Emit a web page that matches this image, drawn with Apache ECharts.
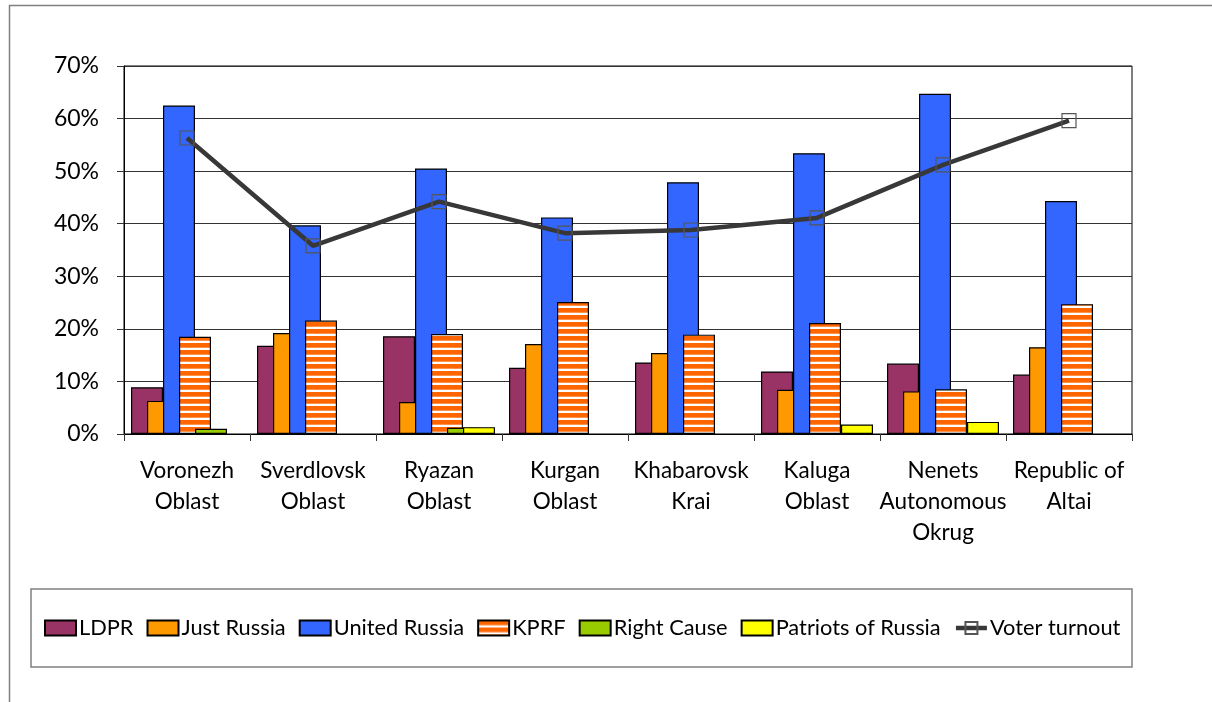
<!DOCTYPE html>
<html>
<head>
<meta charset="utf-8">
<script src="https://cdn.jsdelivr.net/npm/echarts@6/dist/echarts.min.js"></script>
<style>
html,body{margin:0;padding:0;background:#fff;}
#chart{width:1212px;height:702px;}
</style>
</head>
<body>
<div id="chart"></div>
<script>
// ---- data ----
var categories = ['Voronezh Oblast','Sverdlovsk Oblast','Ryazan Oblast','Kurgan Oblast','Khabarovsk Krai','Kaluga Oblast','Nenets Autonomous Okrug','Republic of Altai'];
var categoryLabels = ['Voronezh\nOblast','Sverdlovsk\nOblast','Ryazan\nOblast','Kurgan\nOblast','Khabarovsk\nKrai','Kaluga\nOblast','Nenets\nAutonomous\nOkrug','Republic of\nAltai'];
var ldpr         = [8.9, 16.8, 18.6, 12.6, 13.6, 11.9, 13.4, 11.3];
var justRussia   = [6.3, 19.2, 6.1, 17.1, 15.4, 8.4, 8.1, 16.5];
var unitedRussia = [62.5, 39.7, 50.5, 41.2, 47.9, 53.4, 64.7, 44.3];
var kprf         = [18.5, 21.6, 19.0, 25.1, 18.9, 21.1, 8.5, 24.7];
var rightCause   = [1.0, null, 1.2, null, null, null, null, null];
var patriots     = [null, null, 1.3, null, null, 1.8, 2.3, null];
var turnout      = [56.3, 35.8, 44.2, 38.2, 38.8, 41.1, 51.2, 59.6];
var yTicks = {min: 0, max: 70, interval: 10};

// ---- stripe pattern for KPRF ----
var pc = document.createElement('canvas');
pc.width = 8; pc.height = 7;
var pctx = pc.getContext('2d');
pctx.fillStyle = '#ffffff'; pctx.fillRect(0,0,8,7);
pctx.fillStyle = '#FF6600'; pctx.fillRect(0,0,8,4.7);

var FONT = 'Lato';
var chart = echarts.init(document.getElementById('chart'), null, {renderer:'canvas'});

function barSeries(name, data, color){
  return {
    name: name, type: 'bar', data: data, barWidth: 32, barGap: '-50%',
    itemStyle: {color: color, borderColor: '#000', borderWidth: 1.2},
    emphasis: {disabled: true}
  };
}

var option = {
  animation: false,
  textStyle: {fontFamily: FONT},
  grid: {left: 124, top: 66, right: 80, bottom: 268, show: true, borderColor: '#000', borderWidth: 1},
  xAxis: {
    type: 'category', data: categories,
    axisLine: {lineStyle: {color: '#000', width: 1}},
    axisTick: {show: true, length: 7, lineStyle: {color: '#333'}},
    axisLabel: {
      color: '#000', fontSize: 22.5, fontFamily: FONT, lineHeight: 31, margin: 21, interval: 0,
      formatter: function(v, i){ return categoryLabels[i]; }
    }
  },
  yAxis: {
    type: 'value', min: yTicks.min, max: yTicks.max, interval: yTicks.interval,
    axisLine: {show: true, lineStyle: {color: '#000', width: 1}},
    axisTick: {show: true, length: 7, lineStyle: {color: '#333'}},
    axisLabel: {color: '#000', fontSize: 23, fontFamily: FONT, margin: 25, formatter: '{value}%'},
    splitLine: {show: true, lineStyle: {color: '#333', width: 1}}
  },
  legend: {
    left: 44, top: 617, padding: 0, itemWidth: 31, itemHeight: 15, itemGap: 13,
    textStyle: {color: '#000', fontSize: 21.8, fontFamily: FONT, padding: [0,0,0,-2]},
    selectedMode: false,
    data: [
      {name:'LDPR', icon:'rect'},{name:'Just Russia', icon:'rect'},{name:'United Russia', icon:'rect'},{name:'KPRF', icon:'rect'},
      {name:'Right Cause', icon:'rect'},{name:'Patriots of Russia', icon:'rect'},
      {name:'Voter turnout', lineStyle:{width:4.5, color:'#383838'}}
    ]
  },
  graphic: [
    {type:'rect', shape:{x:9.5, y:5.5, width:1300, height:800}, style:{fill:'none', stroke:'#808080', lineWidth:1.5}, silent:true, z:-10},
    {type:'rect', shape:{x:31, y:589, width:1101, height:78}, style:{fill:'none', stroke:'#808080', lineWidth:1.5}, silent:true, z:-10}
  ],
  series: [
    barSeries('LDPR', ldpr, '#993366'),
    barSeries('Just Russia', justRussia, '#FF9900'),
    barSeries('United Russia', unitedRussia, '#3366FF'),
    barSeries('KPRF', kprf, {image: pc, repeat: 'repeat'}),
    barSeries('Right Cause', rightCause, '#99CC00'),
    barSeries('Patriots of Russia', patriots, '#FFFF00'),
    {
      name: 'Voter turnout', type: 'line', data: turnout, z: 5,
      symbol: 'rect', symbolSize: 14,
      lineStyle: {color: '#383838', width: 4.5},
      itemStyle: {color: 'rgba(255,255,255,0)', borderColor: '#555', borderWidth: 1.2},
      emphasis: {disabled: true}
    }
  ]
};
chart.setOption(option);
</script>
</body>
</html>
